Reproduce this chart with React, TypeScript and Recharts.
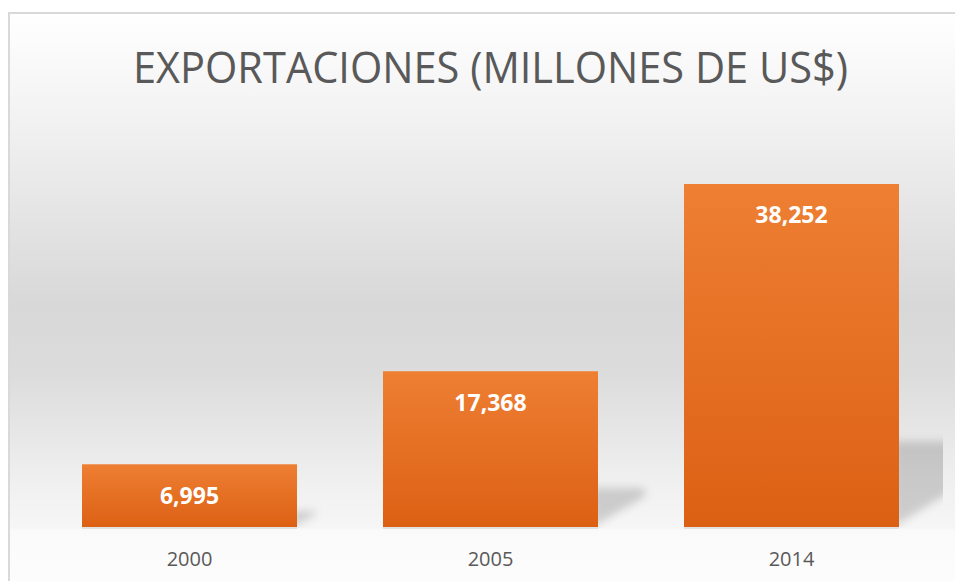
import React from "react";
import { BarChart, Bar, XAxis, YAxis, LabelList } from "recharts";

const years = ["2000", "2005", "2014"];
const exportValues = [6995, 17368, 38252];

const data = years.map((year, i) => ({ year, value: exportValues[i] }));

const fmt = (v: number) => v.toLocaleString("en-US");

// bar with a soft perspective shadow to the right, like the office preset
const ShadowBar = (props: any) => {
  const { x, y, width, height, fill } = props;
  if (!height || height <= 0) return null;
  const base = y + height;
  const sh = height * 0.25;
  const ext = height * 0.3;
  const pts = [
    [x + width - 6, base],
    [x + width + ext, base - ext * 0.65],
    [x + width + ext, base - sh],
    [x + width - 6, base - sh],
  ]
    .map((p) => p.join(","))
    .join(" ");
  return (
    <g>
      <g clipPath="url(#plotClip)">
        <polygon points={pts} fill="#000" fillOpacity={0.16} filter="url(#shBlur)" />
      </g>
      <rect x={x} y={base} width={width} height={2} fill="#e2e2e2" />
      <rect x={x} y={y} width={width} height={height} fill={fill} />
    </g>
  );
};

export default function App() {
  return (
    <div
      style={{
        position: "fixed",
        left: 0,
        top: 0,
        width: 955,
        height: 581,
        overflow: "hidden",
        background: "#fff",
        fontFamily: "'Open Sans', sans-serif",
      }}
    >
      <div
        style={{
          position: "absolute",
          left: 8,
          top: 12,
          width: 980,
          height: 600,
          boxSizing: "border-box",
          border: "2px solid #d9d9d9",
          background:
            "linear-gradient(to bottom, #ffffff 0px, #f4f4f4 90px, #d8d8d8 290px, #dcdcdc 360px, #f0f0f0 470px, #f6f6f6 514px, #fafafa 516px, #fdfdfd 580px)",
        }}
      />
      <svg width={955} height={120} style={{ position: "absolute", left: 0, top: 0 }}>
        <text
          x={490.5}
          y={83}
          textAnchor="middle"
          fontSize={44}
          fontWeight={400}
          fill="#595959"
          textLength={715}
          lengthAdjust="spacingAndGlyphs"
          fontFamily="'Open Sans', sans-serif"
        >
          EXPORTACIONES (MILLONES DE US$)
        </text>
      </svg>
      <div style={{ position: "absolute", left: 0, top: 0 }}>
        <BarChart
          width={955}
          height={581}
          data={data}
          margin={{ top: 123.5, right: 13, bottom: 24, left: 39 }}
        >
          <defs>
            <linearGradient id="barGrad" x1="0" y1="0" x2="0" y2="1">
              <stop offset="0%" stopColor="#ee7f33" />
              <stop offset="100%" stopColor="#dc6014" />
            </linearGradient>
            <filter id="shBlur" x="-50%" y="-50%" width="200%" height="200%">
              <feGaussianBlur stdDeviation="4" />
            </filter>
            <clipPath id="plotClip">
              <rect x={0} y={0} width={943} height={528} />
            </clipPath>
          </defs>
          <XAxis
            dataKey="year"
            axisLine={false}
            tickLine={false}
            tickMargin={19}
            height={30}
            tick={{ fill: "#595959", fontSize: 20 }}
          />
          <YAxis hide domain={[0, 45000]} />
          <Bar
            dataKey="value"
            barSize={215}
            fill="url(#barGrad)"
            shape={ShadowBar}
            isAnimationActive={false}
          >
            <LabelList
              dataKey="value"
              position="insideTop"
              offset={23}
              formatter={(v: any) => fmt(Number(v))}
              fill="#ffffff"
              fontSize={23}
              fontWeight={700}
            />
          </Bar>
        </BarChart>
      </div>
    </div>
  );
}
